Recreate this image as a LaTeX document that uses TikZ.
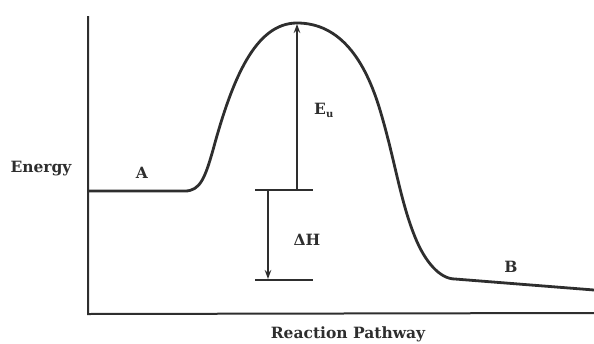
\documentclass[tikz,border=0pt]{standalone}
\usepackage{fontspec}
\setmainfont{DejaVu Serif}
\usetikzlibrary{arrows.meta}
\begin{document}
\begin{tikzpicture}[x=1pt,y=-1pt,
  axis/.style={line width=2pt,draw=black!82},
  curveline/.style={line width=2.8pt,draw=black!82,line join=round},
  level/.style={line width=2pt,draw=black!82},
  arr/.style={line width=1.6pt,draw=black!82,-{Stealth[length=9pt,width=6.5pt]}},
  lab/.style={font=\bfseries\fontsize{15.5}{18}\selectfont,text=black!82,inner sep=0pt,anchor=base}]
\useasboundingbox (0,0) rectangle (594,343);
% axes
\coordinate (top) at (88,16);
\coordinate (O) at (88,314);
\coordinate (xend) at (594,313);
\draw[axis] (top) -- (O) -- (xend);
% reaction curve
\coordinate (a0) at (88,191);
\coordinate (a1) at (185,191);
\coordinate (peak) at (297,23);
\coordinate (knee) at (455,279);
\coordinate (bend) at (594,290);
\draw[curveline] (a0) -- (a1)
  .. controls (200,191) and (205,178) .. (213,150)
  .. controls (232,80) and (255,23) .. (peak)
  .. controls (340,23) and (365,60) .. (380,110)
  .. controls (395,160) and (400,200) .. (415,237)
  .. controls (425,262) and (440,279) .. (knee)
  -- (bend);
% levels
\coordinate (l1a) at (255,190);
\coordinate (l1b) at (313,190);
\coordinate (l2a) at (255,280);
\coordinate (l2b) at (313,280);
\draw[level] (l1a) -- (l1b);
\draw[level] (l2a) -- (l2b);
\coordinate (eab) at (297,190);
\coordinate (eat) at (297,24);
\draw[arr] (eab) -- (eat);
\coordinate (dht) at (268,191);
\coordinate (dhb) at (268,279);
\draw[arr] (dht) -- (dhb);
% labels
\node[lab] (energy) at (41,172) {Energy};
\node[lab] (A) at (142,178) {A};
\node[lab,anchor=base west] (Eu) at (314,114) {E\raisebox{-3pt}{\fontsize{10}{12}\selectfont u}};
\node[lab] (dH) at (307,245) {ΔH};
\node[lab] (B) at (511,272) {B};
\node[lab] (rp) at (348,338) {Reaction Pathway};
\end{tikzpicture}
\end{document}
